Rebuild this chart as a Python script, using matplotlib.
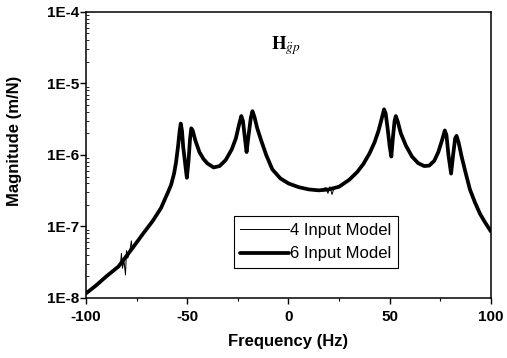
import matplotlib.pyplot as plt
from matplotlib.ticker import FixedLocator, LogLocator, NullFormatter

plt.rcParams['font.family'] = ['Liberation Sans', 'DejaVu Sans']
plt.rcParams['mathtext.fontset'] = 'stix'
plt.rcParams['axes.unicode_minus'] = False

# frequency response, 6 input model
freq = [-100, -95, -90, -84, -77, -72, -67, -63, -60, -58, -56.5, -55.5, -54.5, -53.8, -53.2,
        -52.6, -52, -51, -50.2, -49.4, -48.6, -48, -47.3, -46, -44, -42, -40, -37, -34, -31,
        -28, -26, -24.5, -23.3, -22.5, -21.6, -20.7, -19.8, -18.6, -17.8, -16.8, -15.5, -13.5,
        -11, -8, -4, 0, 5, 10, 15, 20, 25, 30, 34, 37, 40, 42.5, 44.5, 46, 47.2, 48, 49, 50,
        50.8, 51.6, 52.4, 53, 54, 55.5, 58, 61, 64, 67, 69.5, 72, 74, 75.8, 77.2, 78, 79,
        80.3, 81.3, 82.3, 83, 84, 85.5, 87.5, 89.6, 92, 94.6, 97, 100]
mag6 = [1.16e-8, 1.5e-8, 2.0e-8, 2.75e-8, 5.0e-8, 7.8e-8, 1.2e-7, 1.8e-7, 2.8e-7, 3.8e-7,
        5.5e-7, 8e-7, 1.35e-6, 2.1e-6, 2.75e-6, 2.2e-6, 1.3e-6, 7.5e-7, 4.8e-7, 8e-7,
        1.7e-6, 2.36e-6, 2.2e-6, 1.6e-6, 1.1e-6, 8.8e-7, 7.6e-7, 6.7e-7, 7.0e-7, 8.5e-7,
        1.2e-6, 1.7e-6, 2.6e-6, 3.5e-6, 3.0e-6, 1.8e-6, 1.1e-6, 1.8e-6, 3.3e-6, 4.1e-6,
        3.4e-6, 2.4e-6, 1.6e-6, 1.0e-6, 6.3e-7, 4.7e-7, 4.0e-7, 3.55e-7, 3.3e-7, 3.2e-7,
        3.3e-7, 3.6e-7, 4.5e-7, 5.8e-7, 7.5e-7, 1.05e-6, 1.5e-6, 2.2e-6, 3.2e-6, 4.35e-6,
        3.8e-6, 2.3e-6, 1.3e-6, 9.5e-7, 1.8e-6, 3.0e-6, 3.5e-6, 2.9e-6, 2.0e-6, 1.35e-6,
        9.5e-7, 7.7e-7, 7.0e-7, 7.1e-7, 8.3e-7, 1.1e-6, 1.6e-6, 2.2e-6, 1.9e-6, 1.0e-6,
        5.5e-7, 1.0e-6, 1.7e-6, 1.85e-6, 1.5e-6, 9.5e-7, 5.6e-7, 3.3e-7, 2.2e-7, 1.5e-7,
        1.15e-7, 8.5e-8]

# 4 input model: same curve with measurement noise in a few bands
noise_f = [-83, -82.5, -82, -81.2, -80.5, -80, -79.4, -78.5, -77.6, -77.2,
           18.5, 19.5, 20.5, 21.5, 22.5]
noise_m = [2.9e-8, 4.2e-8, 2.6e-8, 3.3e-8, 2.1e-8, 4.6e-8, 3.6e-8, 4.3e-8, 6.3e-8, 4.8e-8,
           3.5e-7, 2.9e-7, 3.6e-7, 2.8e-7, 3.45e-7]
pts = sorted(zip(freq + noise_f, mag6 + noise_m))
freq4 = [p[0] for p in pts]
mag4 = [p[1] for p in pts]

fig = plt.figure(figsize=(5.07, 3.58), dpi=100)
ax = fig.add_axes([0.1696, 0.1676, 0.7988, 0.799])

ax.plot(freq4, mag4, color='black', lw=0.7, label='4 Input Model')
ax.plot(freq, mag6, color='black', lw=2.7, solid_joinstyle='round',
        solid_capstyle='round', label='6 Input Model')

ax.set_yscale('log')
ax.set_xlim(-100, 100)
ax.set_ylim(1e-8, 1e-4)
ax.set_xticks([-100, -50, 0, 50, 100])
ax.xaxis.set_minor_locator(FixedLocator([-75, -25, 25, 75]))
ax.set_yticks([1e-8, 1e-7, 1e-6, 1e-5, 1e-4])
ax.set_yticklabels(['1E-8', '1E-7', '1E-6', '1E-5', '1E-4'])
ax.yaxis.set_minor_locator(LogLocator(base=10, subs=range(2, 10), numticks=20))
ax.yaxis.set_minor_formatter(NullFormatter())

ax.tick_params(axis='both', which='major', direction='out', length=4, width=1,
               labelsize=11)
ax.tick_params(axis='x', which='major', pad=5)
ax.tick_params(axis='y', which='major', pad=1)
ax.tick_params(axis='x', which='minor', direction='out', length=2.5, width=0.8)
ax.tick_params(axis='y', which='minor', direction='in', length=2, width=0.6)
for lbl in ax.get_xticklabels() + ax.get_yticklabels():
    lbl.set_fontweight('bold')
for s in ax.spines.values():
    s.set_linewidth(1.1)

ax.set_xlabel('Frequency (Hz)', fontsize=12, fontweight='bold', labelpad=7)
ax.set_ylabel('Magnitude (m/N)', fontsize=12, fontweight='bold')
ax.yaxis.set_label_coords(-0.158, 0.549)

ax.text(-8.5, 3.4e-5, r'$\mathbf{H}_{\ddot{g}p}$', fontsize=13.5, ha='left', va='center')

leg = ax.legend(loc='upper left', bbox_to_anchor=(0.365, 0.285), fontsize=12,
                handlelength=2.9, handletextpad=0.1, borderpad=0.4, labelspacing=0.5,
                borderaxespad=0, fancybox=False, framealpha=1, edgecolor='black')
leg.get_frame().set_linewidth(0.8)

fig.savefig('out.png', dpi=100)
